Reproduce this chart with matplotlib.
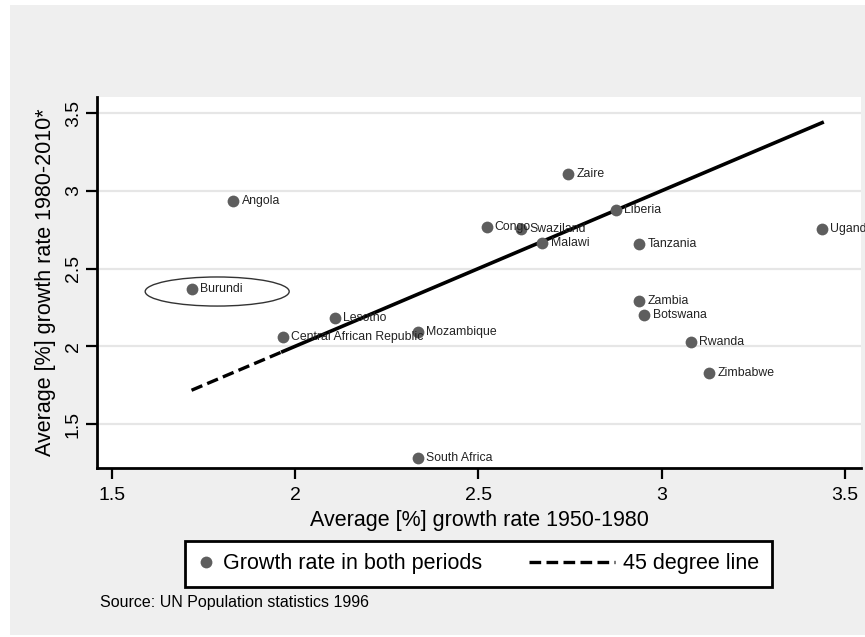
import matplotlib
matplotlib.use("Agg")
import matplotlib.pyplot as plt
from matplotlib.patches import Ellipse, Rectangle
from matplotlib.lines import Line2D
from matplotlib.legend_handler import HandlerLine2D

plt.rcParams['font.family'] = ['Liberation Sans', 'DejaVu Sans']

countries = ['Angola', 'Burundi', 'Central African Republic', 'Lesotho', 'Mozambique',
             'South Africa', 'Congo', 'Swaziland', 'Malawi', 'Zaire', 'Liberia',
             'Tanzania', 'Zambia', 'Botswana', 'Rwanda', 'Zimbabwe', 'Uganda']
growth_1950_80 = [1.831, 1.717, 1.966, 2.108, 2.334, 2.334, 2.522, 2.616, 2.674,
                  2.744, 2.875, 2.939, 2.939, 2.953, 3.079, 3.130, 3.438]
growth_1980_2010 = [2.936, 2.366, 2.061, 2.180, 2.094, 1.281, 2.769, 2.754, 2.666,
                    3.108, 2.876, 2.658, 2.293, 2.203, 2.029, 1.830, 2.752]
ticks = [1.5, 2, 2.5, 3, 3.5]
tick_labels = ['1.5', '2', '2.5', '3', '3.5']
highlight = 'Burundi'

point_col = '#5e5e5e'
bg = '#efefef'

fig = plt.figure(figsize=(8.65, 6.37), dpi=100, facecolor='white')
fig.patches.append(Rectangle((10 / 865, 2 / 637), 1, 630 / 637, transform=fig.transFigure,
                             facecolor=bg, edgecolor='none', zorder=-10))
ax = fig.add_axes([97 / 865, 1 - 468 / 637, 764 / 865, 371 / 637])
ax.set_facecolor('white')

ax.scatter(growth_1950_80, growth_1980_2010, s=72, color=point_col, zorder=3,
           linewidths=0)
for name, x, y in zip(countries, growth_1950_80, growth_1980_2010):
    ax.annotate(name, (x, y), xytext=(6, 0), textcoords='offset points',
                va='center', ha='left', fontsize=8.8, color='#222222', zorder=4)

# 45 degree line (dashed at the start, dense/solid further on)
xs = sorted(growth_1950_80)
ax.plot([xs[0], xs[2]], [xs[0], xs[2]], color='black', lw=2.4,
        linestyle=(0, (3.5, 1.6)), zorder=2)
ax.plot([xs[2], xs[-1]], [xs[2], xs[-1]], color='black', lw=2.6, zorder=2)

# ring around Burundi
i = countries.index(highlight)
ax.add_patch(Ellipse((growth_1950_80[i] + 0.07, growth_1980_2010[i] - 0.014), 0.393, 0.187,
                     fill=False, edgecolor='#333333', lw=1.0, zorder=4))

ax.set_xlim(1.459, 3.544)
ax.set_ylim(1.217, 3.603)
ax.set_xticks(ticks)
ax.set_xticklabels(tick_labels)
ax.set_yticks(ticks)
ax.set_yticklabels(tick_labels, rotation=90, va='center')
ax.yaxis.grid(True, color='#e6e6e6', lw=1.6)
ax.set_axisbelow(True)
for s in ['top', 'right']:
    ax.spines[s].set_visible(False)
for s in ['left', 'bottom']:
    ax.spines[s].set_linewidth(2)
ax.tick_params(axis='both', length=8, width=1.6, labelsize=14, color='black')
ax.tick_params(axis='y', pad=3)
ax.tick_params(axis='x', pad=6)
ax.set_xlabel('Average [%] growth rate 1950-1980', fontsize=15.5, labelpad=4)
ax.set_ylabel('Average [%] growth rate 1980-2010*', fontsize=15.5, labelpad=6)


class LongLine(HandlerLine2D):
    def create_artists(self, legend, orig_handle, xdescent, ydescent, width, height,
                       fontsize, trans):
        return super().create_artists(legend, orig_handle, xdescent + 4 * width, ydescent,
                                      5 * width, height, fontsize, trans)


h_pts = Line2D([], [], linestyle='none', marker='o', markersize=8.5,
               markerfacecolor=point_col, markeredgewidth=0)
h_line = Line2D([], [], color='black', lw=2.4, linestyle=(0, (3.5, 1.6)))
leg = fig.legend([h_pts, h_line], ['Growth rate in both periods', '45 degree line'],
                 loc='center', bbox_to_anchor=(0.553, 0.1146), ncol=2, fontsize=15.5,
                 handlelength=0.8, handletextpad=0.35, columnspacing=5.4,
                 borderpad=0.6, borderaxespad=0, fancybox=False, framealpha=1,
                 handler_map={h_line: LongLine()})
leg.get_frame().set_edgecolor('black')
leg.get_frame().set_linewidth(2)

fig.text(100 / 865, 1 - 602 / 637, 'Source: UN Population statistics 1996',
         fontsize=11.5, va='center', ha='left')

fig.savefig('out.png', dpi=100, facecolor=fig.get_facecolor())
